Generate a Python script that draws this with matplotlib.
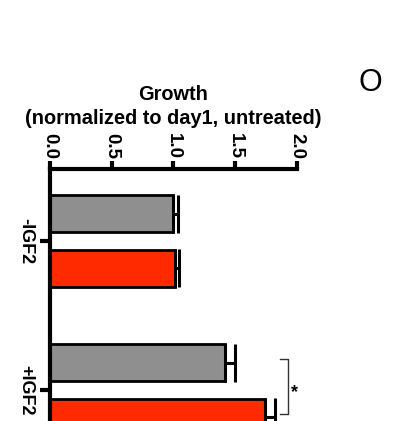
import numpy as np
import matplotlib
matplotlib.use("Agg")
import matplotlib.pyplot as plt

# ---------------- Data ----------------
groups = ["-IGF2", "+IGF2"]
untreated = [1.00, 1.42]
treated = [1.01, 1.74]
untreated_err = [0.04, 0.075]
treated_err = [0.035, 0.08]

GRAY = "#8f8f8f"
RED = "#ff2a00"

plt.rcParams["font.family"] = ["Liberation Sans", "DejaVu Sans"]
plt.rcParams["font.weight"] = "bold"

fig = plt.figure(figsize=(3.93, 4.21), dpi=100)
ax = fig.add_axes([0.1272, -0.0974, 0.6285, 0.696])

pos = np.arange(len(groups))
off = 0.184
h = 0.243

ax.barh(pos - off, untreated, height=h, color=GRAY, edgecolor="black", linewidth=2)
ax.barh(pos + off, treated, height=h, color=RED, edgecolor="black", linewidth=2)
ax.errorbar(untreated, pos - off, xerr=[np.zeros(2), untreated_err], fmt="none",
            ecolor="black", elinewidth=2.2, capsize=14, capthick=2.2)
ax.errorbar(treated, pos + off, xerr=[np.zeros(2), treated_err], fmt="none",
            ecolor="black", elinewidth=2.2, capsize=14, capthick=2.2)

ax.set_xlim(0, 2.0)
ax.set_ylim(1.483, -0.483)

# axis layout: value axis on top, categories on the left
for s in ["right", "bottom"]:
    ax.spines[s].set_visible(False)
for s in ["top", "left"]:
    ax.spines[s].set_linewidth(3)
ax.xaxis.tick_top()
ax.xaxis.set_label_position("top")
ax.set_xticks([0.0, 0.5, 1.0, 1.5, 2.0])
ax.set_xticklabels(["0.0", "0.5", "1.0", "1.5", "2.0"], rotation=-90,
                   fontsize=13.5, fontweight="bold")
ax.set_yticks(pos)
ax.set_yticklabels(groups, rotation=-90, fontsize=13, fontweight="bold", va="center")
ax.tick_params(axis="x", length=6, width=3, pad=1)
ax.tick_params(axis="y", length=7, width=3, pad=4)
ax.set_xlabel("Growth\n(normalized to day1, untreated)", fontsize=14.4,
              fontweight="bold", labelpad=7, linespacing=1.3)

# significance bracket between the +IGF2 bars
bx = 1.93
y0, y1 = 1 - off - 0.022, 1 + off - 0.023
ax.plot([bx - 0.067, bx, bx, bx - 0.067], [y0, y0, y1, y1],
        color="#333333", linewidth=1, clip_on=False)
ax.text(bx + 0.05, (y0 + y1) / 2 + 0.04, "*", fontsize=13, fontweight="bold",
        va="center", ha="center")

fig.text(0.942, 0.802, "O", fontsize=22, fontweight="normal", ha="center", va="center")

fig.savefig("out.png", dpi=100)
